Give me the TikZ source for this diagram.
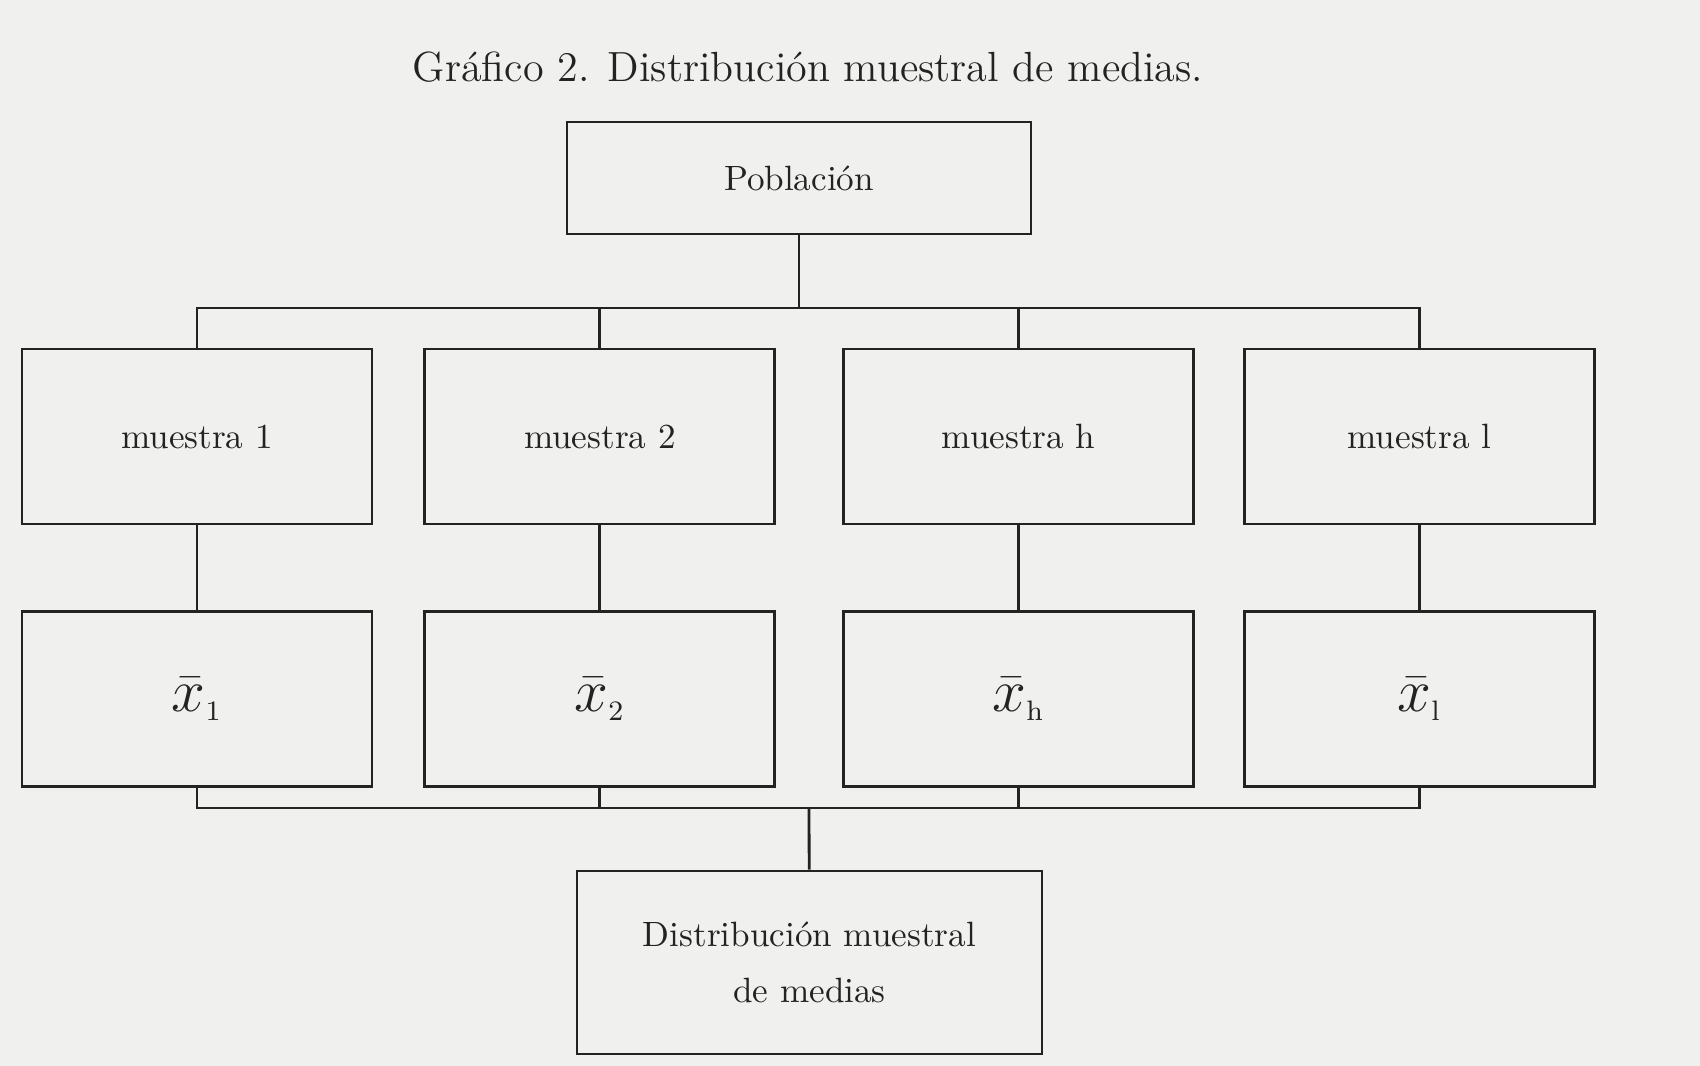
\documentclass[tikz,border=0pt]{standalone}
\usepackage{amsmath}
\usepackage{tikz}
\usetikzlibrary{positioning, calc}
\definecolor{paper}{RGB}{240, 240, 238}
\definecolor{ink}{RGB}{35, 35, 35}

\begin{document}
\begin{tikzpicture}[
    node distance=0.85cm,
    box/.style={rectangle, draw=ink, line width=0.8pt, inner sep=0pt, minimum width=3.5cm, minimum height=1.75cm, align=center, text=ink, font=\fontsize{10}{16}\selectfont},
    meanbox/.style={box, font=\fontsize{16}{18}\selectfont},
    link/.style={draw=ink, line width=0.8pt}
]
    \useasboundingbox[fill=paper] (0,0) rectangle (17,-10.66);

    \node[text=ink, font=\fontsize{12}{14}\selectfont] (title) at (8.08,-0.67) {Gráfico 2. Distribución muestral de medias.};

    \node[box, minimum width=4.64cm, minimum height=1.12cm] (pob) at (7.99,-1.78) {Población};

    % samples
    \node[box] (m1) at (1.97,-4.365) {muestra 1};
    \node[box, right=0.5cm of m1] (m2) {muestra 2};
    \node[box, right=0.66cm of m2] (m3) {muestra h};
    \node[box, right=0.48cm of m3] (m4) {muestra l};

    % sample means
    \node[meanbox, below=of m1] (x1) {$\bar{x}_{\scriptscriptstyle 1}$};
    \node[meanbox, below=of m2] (x2) {$\bar{x}_{\scriptscriptstyle 2}$};
    \node[meanbox, below=of m3] (x3) {$\bar{x}_{\scriptscriptstyle \mathrm{h}}$};
    \node[meanbox, below=of m4] (x4) {$\bar{x}_{\scriptscriptstyle \mathrm{l}}$};

    \node[box, minimum width=4.65cm, minimum height=1.83cm] (dist) at (8.095,-9.625) {Distribución muestral\\de medias};

    \coordinate (top) at (7.99,-3.08);
    \coordinate (bot) at (8.09,-8.08);

    \draw[link] (pob.south) -- (top);
    \draw[link] (m1.north) -- (m1.north |- top) -- (m4.north |- top) -- (m4.north);
    \draw[link] (m2.north) -- (m2.north |- top);
    \draw[link] (m3.north) -- (m3.north |- top);

    \foreach \i in {1,...,4}
        \draw[link] (m\i) -- (x\i);

    \draw[link] (x1.south) -- (x1.south |- bot) -- (x4.south |- bot) -- (x4.south);
    \draw[link] (x2.south) -- (x2.south |- bot);
    \draw[link] (x3.south) -- (x3.south |- bot);
    \draw[link] (bot) -- (dist);
\end{tikzpicture}
\end{document}
